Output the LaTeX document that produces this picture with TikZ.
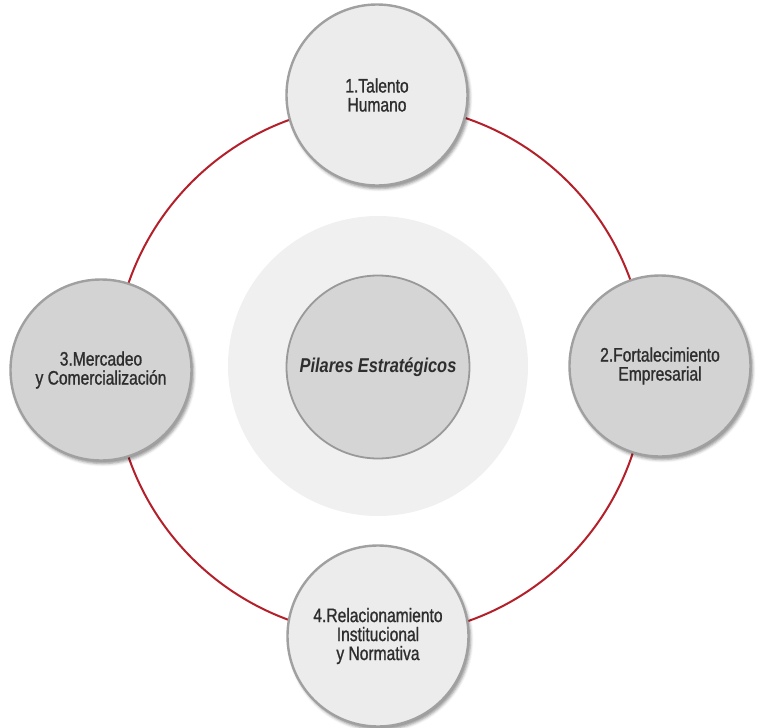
\documentclass[tikz,border=0pt]{standalone}
\usepackage{fontspec}
\setmainfont{Liberation Sans}[FakeStretch=0.82]
\newfontfamily\pillarfont{Liberation Sans}[FakeStretch=0.8, FakeBold=1.1]
\usetikzlibrary{shadows.blur}
\definecolor{ringred}{HTML}{B3202A}
\definecolor{bordergray}{HTML}{A0A0A0}
\definecolor{textgray}{HTML}{2E2E2E}
\definecolor{lightfill}{HTML}{ECECEC}
\definecolor{darkfill}{HTML}{D3D3D3}
\definecolor{halofill}{HTML}{F0F0F0}
\definecolor{corefill}{HTML}{D5D5D5}
\definecolor{coreborder}{HTML}{999999}
\begin{document}
\begin{tikzpicture}[x=1pt,y=-1pt,
  pillar/.style={circle, minimum size=181pt, inner sep=0pt, draw=bordergray,
    line width=2.4pt, align=center, text=textgray,
    font=\pillarfont\fontsize{19.5}{19}\selectfont,
    blur shadow={shadow xshift=2pt, shadow yshift=-3pt, shadow blur radius=3pt, shadow opacity=45}},
  ringline/.style={draw=ringred, line width=2pt},
]
\useasboundingbox (0,0) rectangle (761,728);
\coordinate (ctr) at (380,370);
\draw[ringline] (ctr) circle[radius=266pt];
\node[circle, minimum size=300pt, inner sep=0pt, fill=halofill] (halo) at (378,366) {};
\node[circle, minimum size=183pt, inner sep=0pt, fill=corefill, draw=coreborder,
  line width=1.8pt, text=textgray, font=\fontsize{20}{19}\selectfont\bfseries\itshape] (core) at (378,367) {Pilares Estratégicos};
\node[pillar, fill=lightfill] (p1) at (377,95) {1.Talento\\Humano};
\node[pillar, fill=darkfill] (p2) at (660,366) {2.Fortalecimiento\\Empresarial};
\node[pillar, fill=darkfill] (p3) at (101,370) {3.Mercadeo\\y Comercialización};
\node[pillar, fill=lightfill] (p4) at (378,636) {4.Relacionamiento\\Institucional\\y Normativa};
\end{tikzpicture}
\end{document}
